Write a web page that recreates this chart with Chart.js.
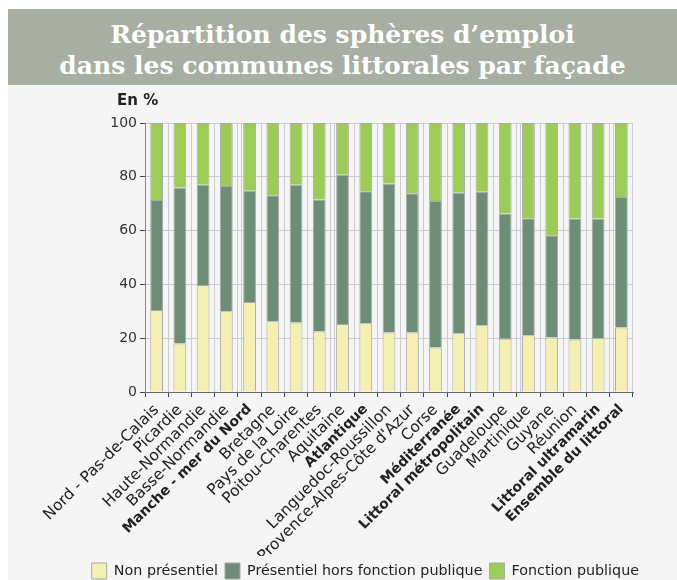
<!DOCTYPE html>
<html>
<head>
<meta charset="utf-8">
<script src="https://cdn.jsdelivr.net/npm/chart.js@4.4.1/dist/chart.umd.min.js"></script>
<style>
  body { margin: 0; background: #fff; overflow: hidden; }
  #wrap { position: absolute; left: 8px; top: 9px; width: 669px; height: 580px; background: #f5f5f5; }
  #banner { height: 66px; padding-top: 10px; background: #a9aea3; color: #fff; text-align: center;
            font: bold 25px "DejaVu Serif"; line-height: 31px; }
  #chartBox { position: relative; width: 669px; height: 504px; }
  #unit { position: absolute; left: 109px; top: 6px; font: bold 15px "DejaVu Sans"; color: #222; }
</style>
</head>
<body>
<div id="wrap">
  <div id="banner">Répartition des sphères d’emploi<br>dans les communes littorales par façade</div>
  <div id="chartBox">
    <div id="unit">En %</div>
    <canvas id="chart" width="669" height="504"></canvas>
  </div>
</div>
<script>
const categories = [
  "Nord - Pas-de-Calais", "Picardie", "Haute-Normandie", "Basse-Normandie", "Manche - mer du Nord",
  "Bretagne", "Pays de la Loire", "Poitou-Charentes", "Aquitaine", "Atlantique",
  "Languedoc-Roussillon", "Provence-Alpes-Côte d'Azur", "Corse", "Méditerranée", "Littoral métropolitain",
  "Guadeloupe", "Martinique", "Guyane", "Réunion", "Littoral ultramarin", "Ensemble du littoral"
];
const boldCategories = ["Manche - mer du Nord", "Atlantique", "Méditerranée", "Littoral métropolitain",
  "Littoral ultramarin", "Ensemble du littoral"];
// double separators after these categories
const groupEnds = ["Manche - mer du Nord", "Atlantique", "Méditerranée", "Littoral métropolitain", "Littoral ultramarin"];

const nonPresentiel = [30.5, 18, 39.8, 30, 33.5, 26.3, 25.8, 22.5, 25.3, 25.6, 22.1, 22.1, 16.5, 21.8, 24.8, 19.8, 21.1, 20.3, 19.5, 20, 24];
const presentielHorsFP = [40.9, 58, 37.2, 46.6, 41.3, 46.8, 51.2, 49.1, 55.5, 49, 55.4, 51.8, 54.5, 52.3, 49.6, 46.6, 43.5, 38, 45, 44.5, 48.5];
const fonctionPublique = [28.6, 24, 23, 23.4, 25.2, 26.9, 23, 28.4, 19.2, 25.4, 22.5, 26.1, 29, 25.9, 25.6, 33.6, 35.4, 41.7, 35.5, 35.5, 27.5];
const yTicks = [0, 20, 40, 60, 80, 100];

const gridColor = "#c9cdd1";
const textColor = "#333";

function barSet(label, values, color)
{
	return {
		label: label,
		data: values,
		backgroundColor: color,
		borderColor: "#a9a9a9",
		borderWidth: 1,
		barPercentage: 0.55,
		categoryPercentage: 1
	};
}

const data =
{
	labels: categories,
	datasets:
	[
		barSet("Non présentiel", nonPresentiel, "#f3f0b2"),
		barSet("Présentiel hors fonction publique", presentielHorsFP, "#6e8d77"),
		barSet("Fonction publique", fonctionPublique, "#9dcb58")
	]
};

const config =
{
	type: "bar",
	data: data,
	options:
	{
		responsive: false,
		animation: false,
		layout: { padding: { top: 38, right: 31, left: 0, bottom: 0 } },
		plugins:
		{
			title: { display: false },
			tooltip: { enabled: false },
			legend:
			{
				position: "bottom",
				align: "end",
				labels: { boxWidth: 15, boxHeight: 16, padding: 7, color: "#222", font: { family: "DejaVu Sans", size: 14.3 } }
			}
		},
		scales:
		{
			x:
			{
				stacked: true,
				grid: { color: gridColor, tickColor: "#444", tickLength: 5, offset: true },
				border: { color: "#666" },
				afterFit: (s) => { s.height = 164; },
				ticks:
				{
					autoSkip: false, minRotation: 45, maxRotation: 45, padding: 4, color: "#222",
					font: (ctx) => boldCategories.includes(categories[ctx.index])
						? { family: "DejaVu Sans", size: 14, weight: "bold" }
						: { family: "DejaVu Sans", size: 15.5, weight: "normal" }
				}
			},
			x2:
			{
				type: "linear",
				position: "top",
				min: -0.5,
				max: categories.length - 0.5,
				ticks: { display: false },
				grid: { color: gridColor, drawTicks: false },
				border: { display: false },
				afterBuildTicks: (s) => { s.ticks = groupEnds.map(c => ({ value: categories.indexOf(c) + 0.57 })); },
				afterFit: (s) => { s.height = 0; }
			},
			y:
			{
				stacked: true,
				min: 0,
				max: 100,
				afterBuildTicks: (s) => { s.ticks = yTicks.map(v => ({ value: v })); },
				afterFit: (s) => { s.width = 137; },
				grid: { color: gridColor, tickColor: "#444", tickLength: 5 },
				border: { color: "#888" },
				ticks: { color: textColor, padding: 3, font: { family: "DejaVu Sans", size: 14 } }
			},
			// empty spacer on the right so the legend sits further right than the plot
			spacer:
			{
				type: "linear",
				position: "right",
				grid: { display: false },
				ticks: { display: false },
				border: { display: false },
				afterFit: (s) => { s.width = 13; }
			}
		}
	}
};

new Chart(document.getElementById("chart"), config);
</script>
</body>
</html>
